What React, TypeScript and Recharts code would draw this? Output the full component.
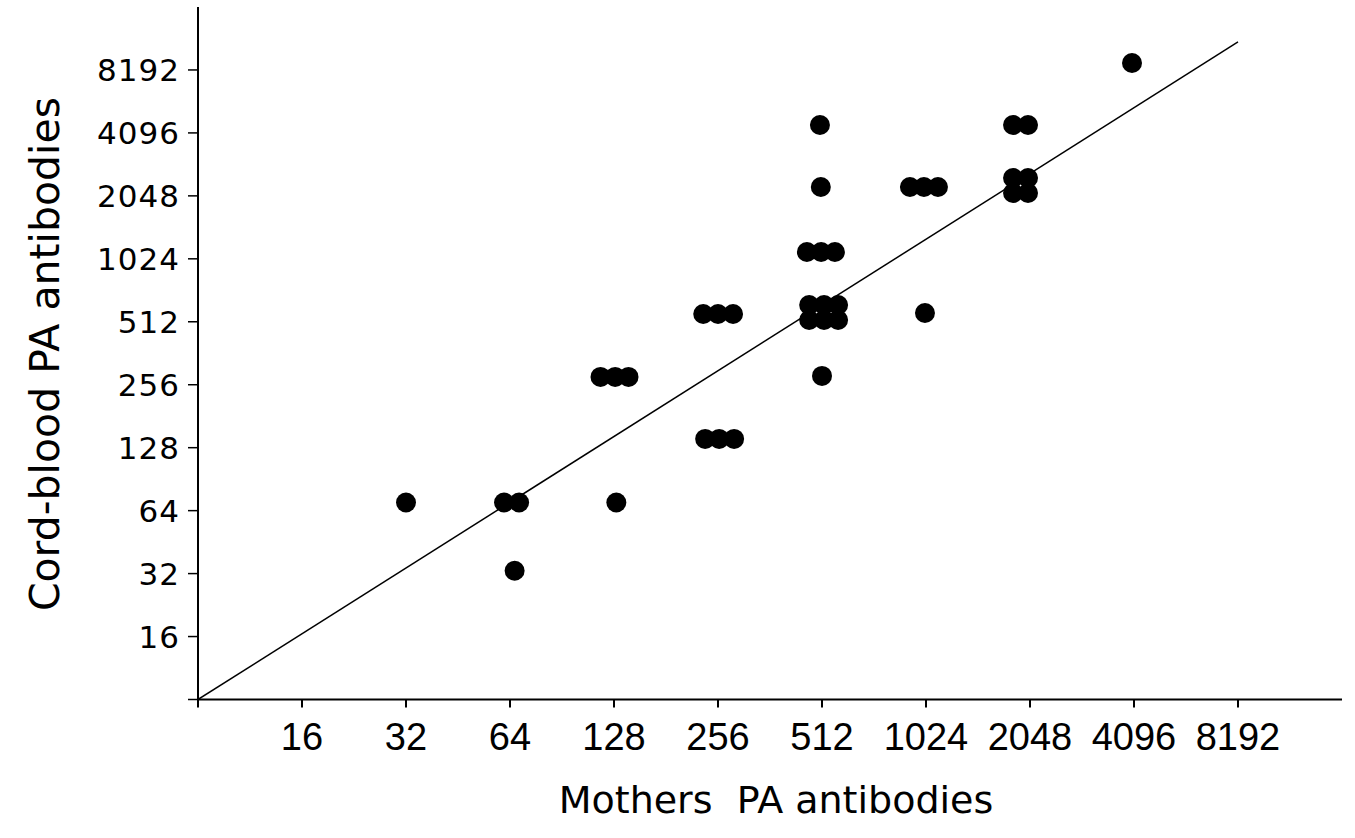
import * as React from "react";
import { ScatterChart, Scatter, XAxis, YAxis } from "recharts";

// titre ticks (log2 steps); 8 only carries the tick mark at the origin
const X_TICKS = [8, 16, 32, 64, 128, 256, 512, 1024, 2048, 4096, 8192];
const Y_TICKS = [8, 16, 32, 64, 128, 256, 512, 1024, 2048, 4096, 8192];

// paired samples, offsets inside a titre step keep overlapping dots visible
const MOTHERS = [
  32, 61.5, 68, 66, 130,
  117, 129, 141,
  235, 258, 285,
  232, 256, 283,
  463, 509, 558,
  470, 519, 570, 470, 519, 570,
  512, 508, 505,
  920, 1010, 1109,
  1017,
  1829, 2021,
  1829, 2021, 1829, 2021,
  4042,
];
const CORD = [
  70, 70, 70, 33, 70,
  279, 279, 279,
  141, 141, 141,
  558, 558, 558,
  1104, 1104, 1104,
  616, 616, 616, 522, 522, 522,
  282, 2258, 4470,
  2258, 2258, 2258,
  564,
  4470, 4470,
  2494, 2494, 2114, 2114,
  8846,
];

// regression line end points
const FIT_X = [8, 8192];
const FIT_Y = [8, 11150];

const points = MOTHERS.map((m, i) => ({ x: m, y: CORD[i] }));
const fitLine = FIT_X.map((x, i) => ({ x, y: FIT_Y[i] }));

const tickLabel = (v: number) => (v === 8 ? "" : String(v));

const Dot = (props: any) => {
  const { cx, cy } = props;
  if (cx == null || cy == null) return <g />;
  return <circle cx={cx} cy={cy} r={10} fill="#000" />;
};

export default function App() {
  return (
    <div
      style={{
        position: "absolute",
        left: 0,
        top: 0,
        width: 1355,
        height: 838,
        background: "#fff",
      }}
    >
      <ScatterChart
        width={1355}
        height={838}
        margin={{ top: 7, right: 13, bottom: 78.5, left: 138 }}
      >
        <XAxis
          type="number"
          dataKey="x"
          scale="log"
          domain={[8, 16384]}
          allowDataOverflow
          ticks={X_TICKS}
          tickFormatter={tickLabel}
          height={60}
          axisLine={{ stroke: "#000", strokeWidth: 2 }}
          tickLine={{ stroke: "#000", strokeWidth: 2 }}
          tickSize={8}
          tickMargin={16}
          tick={{
            fill: "#000",
            fontSize: 38,
            fontFamily: "'Liberation Sans', Arial, sans-serif",
          }}
          interval={0}
        />
        <YAxis
          type="number"
          dataKey="y"
          scale="log"
          domain={[8, 16384]}
          allowDataOverflow
          ticks={Y_TICKS}
          tickFormatter={tickLabel}
          width={60}
          axisLine={{ stroke: "#000", strokeWidth: 2 }}
          tickLine={{ stroke: "#000", strokeWidth: 1.5 }}
          tickSize={10}
          tickMargin={8}
          tick={{
            fill: "#000",
            fontSize: 31,
            letterSpacing: 1,
            fontFamily: "'DejaVu Sans', Verdana, sans-serif",
          }}
          interval={0}
        />
        <Scatter
          data={fitLine}
          line={{ stroke: "#000", strokeWidth: 1.5 }}
          lineType="joint"
          shape={() => <g />}
          legendType="none"
          isAnimationActive={false}
        />
        <Scatter data={points} shape={Dot} isAnimationActive={false} />
      </ScatterChart>

      <div
        style={{
          position: "absolute",
          left: 776,
          top: 800,
          transform: "translate(-50%, -50%)",
          fontFamily: "'DejaVu Sans', Verdana, sans-serif",
          fontSize: 38,
          lineHeight: 1,
          whiteSpace: "pre",
          color: "#000",
        }}
      >
        Mothers  PA antibodies
      </div>
      <div
        style={{
          position: "absolute",
          left: 45,
          top: 354,
          transform: "translate(-50%, -50%) rotate(-90deg)",
          fontFamily: "'DejaVu Sans', Verdana, sans-serif",
          fontSize: 41,
          lineHeight: 1,
          whiteSpace: "pre",
          color: "#000",
        }}
      >
        Cord-blood PA antibodies
      </div>
    </div>
  );
}
